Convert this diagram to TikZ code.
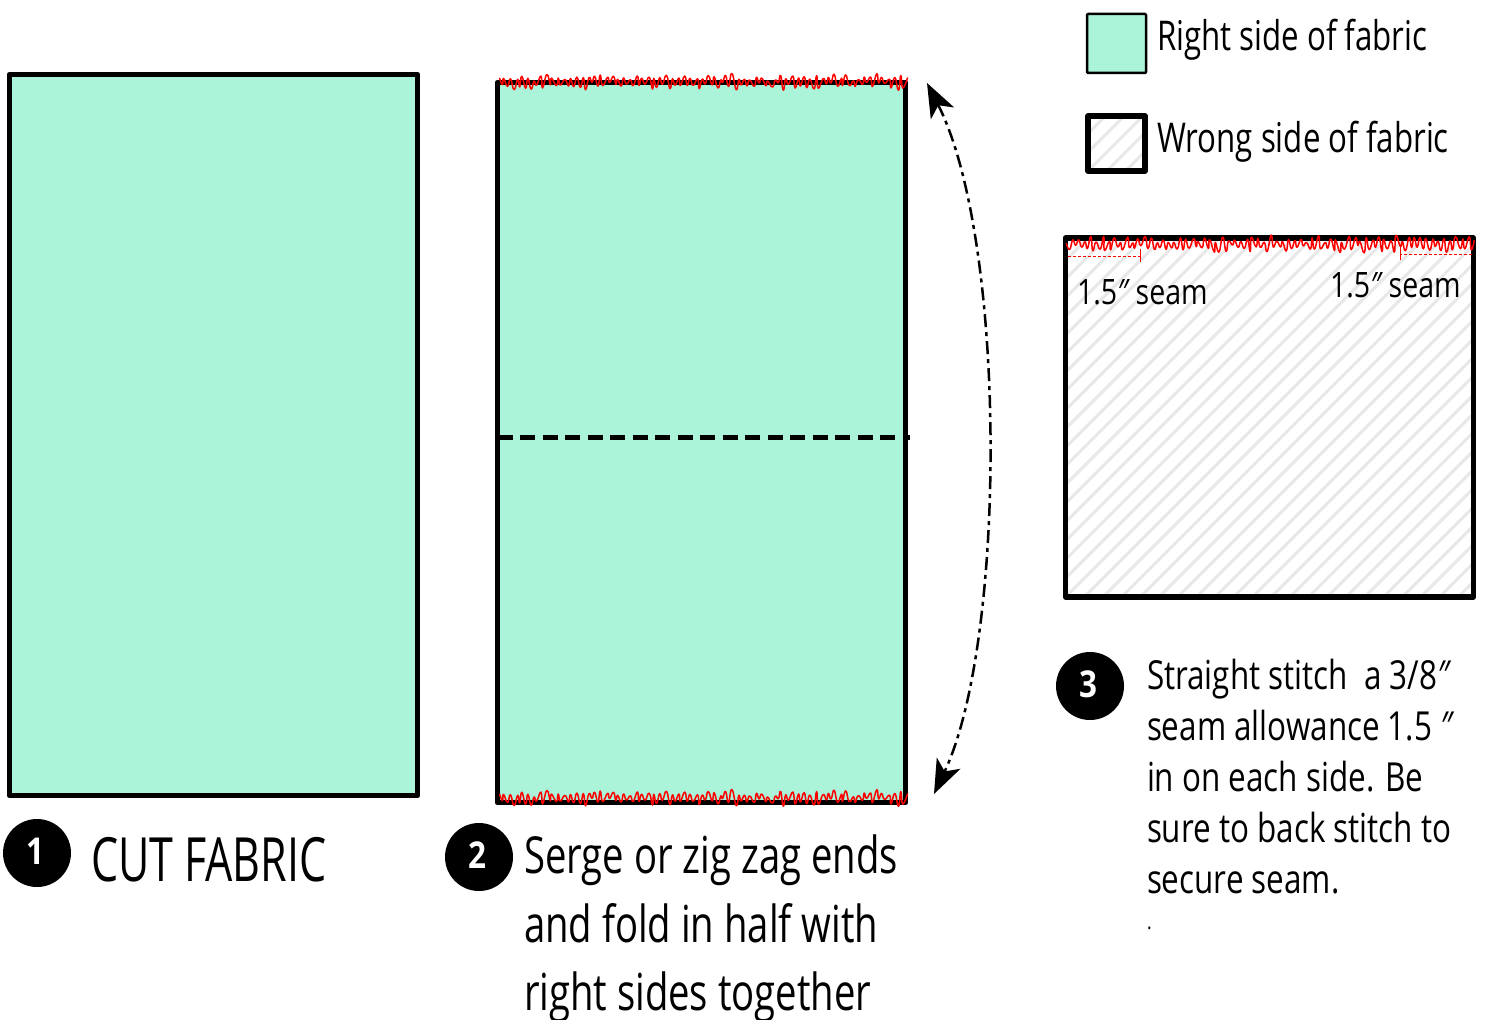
\documentclass[tikz,border=0pt]{standalone}
\usepackage{fontspec}
\setmainfont[FakeStretch=0.72]{Open Sans}
\newfontfamily\fcut[FakeStretch=0.705]{Open Sans}
\newfontfamily\fstepb[FakeStretch=0.75]{Open Sans}
\newfontfamily\fstepc[FakeStretch=0.785]{Open Sans}
\newfontfamily\fkey[FakeStretch=0.762]{Open Sans}
\newfontfamily\fseam[FakeStretch=0.815]{Open Sans}
\newfontfamily\fbadge[FakeStretch=0.85]{Open Sans}
\usetikzlibrary{arrows.meta,calc}
\definecolor{fabric}{HTML}{ABF3D9}
\definecolor{hatchgray}{HTML}{E8E8E8}
\newcommand{\dprime}{{\itshape ″}}
\tikzset{
  x=1pt,y=-1pt,
  every node/.style={inner sep=0pt,outer sep=0pt},
  panel/.style={draw=black,line width=5.5pt,line join=round,anchor=north west},
  rightside/.style={panel,fill=fabric},
  hatched/.style={panel,fill=white,path picture={
    \foreach \i in {-40,...,60}{
      \draw[hatchgray,line width=3pt]
        ($(path picture bounding box.south west)+(\i*18.7,0)$) -- ++(600,-600);
    }}},
  seam/.style={draw=red,line width=1.5pt,line join=round},
  allow/.style={draw=red,line width=0.8pt,dash pattern=on 3pt off 2pt},
  tick/.style={draw=red,line width=0.9pt},
  badge/.style={circle,fill=black,minimum size=68pt,text=white,font=\fbadge\fontsize{37}{37}\selectfont\bfseries},
  legendtext/.style={anchor=base west,font=\fkey\fontsize{41}{41}\selectfont},
  seamtext/.style={anchor=base west,font=\fseam\fontsize{35}{35}\selectfont},
  foldline/.style={draw=black,line width=5pt,dash pattern=on 15pt off 7.5pt},
  foldarrow/.style={draw=black,line width=2.5pt,dash pattern=on 13pt off 5pt on 4pt off 5pt,
    {Stealth[length=34pt,width=26pt,inset=9pt]}-{Stealth[length=34pt,width=26pt,inset=9pt]}},
}
\newcommand{\seamline}[3]{% anchor coordinate, number of samples, seed
  \pgfmathsetseed{#3}
  \draw[seam,shift={(#1)}] plot[smooth,tension=.9,samples=#2,domain=0:#2-1]
    ({\x*3+1.2*rand},{(mod(round(\x),2)*2-1)*(1.5+6*rnd)+1.8*rand});
}
\begin{document}
\begin{tikzpicture}
\useasboundingbox (0,0) rectangle (1487,1019);
% panels
\node[rightside,minimum width=408pt,minimum height=721pt] (cut) at (9.5,74.5) {};
\node[rightside,minimum width=408pt,minimum height=720pt] (fold) at (497.5,82.5) {};
\node[hatched,minimum width=408pt,minimum height=359pt] (sewn) at (1065.5,238) {};
% fold line
\coordinate (foldR) at ($(fold.east)+(4,-5)$);
\draw[foldline] ($(fold.west)+(0,-5)$) -- (foldR);
% serged edges
\seamline{$(fold.north west)+(1,-1)$}{137}{41}
\seamline{$(fold.south west)+(1,-5)$}{137}{41}
\seamline{$(sewn.north west)+(1,6)$}{137}{77}
% seam allowance marks
\coordinate (aL) at ($(sewn.north west)+(2,18)$);
\coordinate (aLe) at ($(sewn.north west)+(75,18)$);
\coordinate (aR) at ($(sewn.north east)+(-2,16)$);
\coordinate (aRe) at ($(sewn.north east)+(-73,16)$);
\draw[allow] (aL) -- (aLe);
\draw[allow] (aR) -- (aRe);
\draw[tick] ($(aLe)+(0,-7)$) -- ($(aLe)+(0,6)$);
\draw[tick] ($(aRe)+(0,-7)$) -- ($(aRe)+(0,6)$);
% fold arrow
\coordinate (arrTop) at (927,83);
\coordinate (arrBot) at (934,794);
\draw[foldarrow] (arrTop) .. controls (1007,240) and (1007,640) .. (arrBot);
% legend
\node[rightside,line width=2.5pt,rounded corners=1pt,minimum width=59pt,minimum height=59pt] (keyR) at (1087,14) {};
\node[hatched,minimum width=57pt,minimum height=55pt] (keyW) at (1088,116) {};
\node[legendtext] (keyRt) at (1157,51) {Right side of fabric};
\node[legendtext] (keyWt) at (1157,153) {Wrong side of fabric};
% seam labels
\node[seamtext] (sL) at (1077,304) {1.5\dprime{} seam};
\node[seamtext] (sR) at (1330,297) {1.5\dprime{} seam};
% steps
\node[badge] (b1) at (37,853) {\hspace{-4pt}\raisebox{3pt}{1}};
\node[badge] (b2) at (479,857) {\hspace{-4pt}\raisebox{3pt}{2}};
\node[badge] (b3) at (1090,686) {\hspace{-4pt}\raisebox{3pt}{3}};
\node[anchor=base west,font=\fcut\fontsize{61}{61}\selectfont] (t1) at (91,881) {CUT FABRIC};
\node[anchor=north west,align=left,font=\fstepb\fontsize{51}{68.5}\selectfont] (t2) at (524,835)
  {Serge or zig zag ends\\and fold in half with\\right sides together};
\node[anchor=north west,align=left,font=\fstepc\fontsize{40}{51}\selectfont] (t3) at (1147,659)
  {Straight stitch\ \ a 3/8\dprime\\seam allowance 1.5 \dprime\\in on each side. Be\\sure to back stitch to\\secure seam.\\[-15pt]{\fontsize{22}{30}\selectfont .}};
\end{tikzpicture}
\end{document}
